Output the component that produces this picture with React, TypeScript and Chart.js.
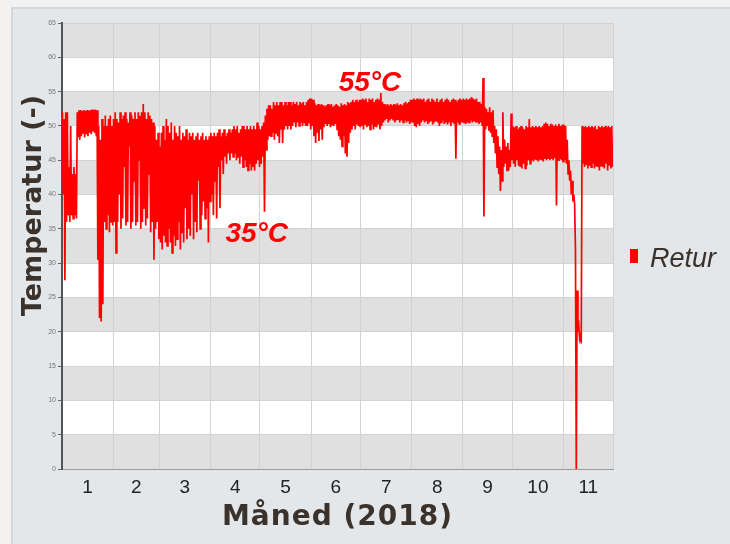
import React, { useEffect, useRef } from 'react';
import { Chart, registerables } from 'chart.js';

Chart.register(...registerables);

// ---- data ----
const SERIES_LABEL = 'Retur';
const MONTH_LABELS = ['1', '2', '3', '4', '5', '6', '7', '8', '9', '10', '11'];
const MONTH_DAYS = [31, 28, 31, 30, 31, 30, 31, 31, 30, 31, 30];
const Y_MIN = 0;
const Y_MAX = 65;
const Y_STEP = 5;

// daily upper value of the return temperature (°C), day 0 = 1 Jan 2018
const HIGH = [
  // Jan
  52, 51, 52, 52, 44, 50, 43, 44, 43, 52, 52.3, 52.3, 52.2, 52.3, 52.2, 52.3, 52.2, 52.3, 52.4, 52.3, 52.4, 52.3, 50, 48, 51, 50, 51.5, 50, 51, 51.5, 50,
  // Feb
  51, 52, 51, 50.5, 52, 51, 51.5, 52, 51, 50.5, 52, 51.5, 51, 52, 51, 52, 51.5, 52, 53.2, 52, 51, 52, 51.5, 51, 50.5, 50, 48, 49,
  // Mar
  47, 49, 50, 48, 51, 50, 49, 50.5, 48, 50, 49, 48.5, 50, 48, 49, 48.5, 49.5, 48, 49, 48.5, 49, 48, 48.5, 49, 48, 48.5, 49, 48, 48.5, 48, 48.5,
  // Apr
  49, 48.5, 49, 48.5, 49, 49.5, 48.5, 49, 49.5, 48.5, 49, 49.5, 49, 49.5, 50, 49.5, 50, 49, 49.5, 50, 50, 49.5, 50, 49.5, 50, 49.5, 50, 49.5, 50.5, 50,
  // May
  49.5, 50, 50.5, 51.5, 52.5, 53, 53, 52.5, 53.5, 53, 53.5, 53, 53.5, 53.5, 53, 53.5, 53, 53.5, 53.5, 53, 53.5, 53.2, 53.5, 53, 53.5, 53.3, 53.5, 53, 53.5, 53.8, 54,
  // Jun
  54, 53.8, 53.3, 53, 53.2, 53, 53.2, 53, 52.8, 53, 53.2, 53, 53.2, 52.8, 53, 53.2, 53, 52.8, 53.3, 53, 53.2, 53, 53.5, 53.3, 53.5, 53.8, 53.5, 53.8, 53.5, 53.8,
  // Jul
  53.8, 54, 53.8, 54, 53.5, 54, 53.8, 54, 53.5, 53.8, 54, 53.8, 54.8, 53.5, 53.2, 53, 53.2, 53, 53.2, 53, 53.2, 53, 53.3, 53, 53.2, 53, 53.3, 53.5, 53.3, 53.5, 53.8,
  // Aug
  53.8, 54, 53.8, 54, 53.8, 54, 53.8, 54, 53.5, 53.8, 54, 53.5, 54, 53.8, 53.5, 54, 53.5, 53.8, 54, 53.5, 53.8, 54, 53.8, 53.5, 53.8, 54, 53.8, 53.5, 53.8, 54, 53.8,
  // Sep
  54, 53.8, 54, 53.8, 54, 54.2, 54, 53.8, 54, 53.5, 53.5, 53.2, 57, 52.8, 52.5, 52, 52.7, 52, 52.3, 50, 49.5, 48.5, 47, 46.5, 52, 48, 47, 47.5, 46.5, 51.8,
  // Oct
  50, 49.8, 50, 49.5, 49.8, 50, 49.8, 49.5, 50, 49.8, 51, 49.8, 50, 49.8, 50, 49.8, 50, 49.8, 50, 50.3, 50.5, 50.3, 50, 50.3, 50.2, 50, 50.2, 50, 50.3, 50, 50.2,
  // Nov
  50.2, 50, 48, 45, 43.5, 42, 40, 32, 26, 21, 19.5, 50, 49.8, 50, 49.8, 50, 49.8, 50, 49.8, 50, 49.5, 50, 49.8, 50, 49.8, 50, 49.8, 50, 49.8, 50,
];

// daily lower value of the return temperature (°C)
const LOW = [
  // Jan
  40, 27.5, 36, 37, 36, 37, 36.5, 37, 36.5, 48.5, 48, 48.5, 49, 48.3, 48.8, 48.5, 49, 48.8, 49.2, 49, 48.5, 30.5, 22, 21.5, 24, 36, 35, 37, 34.5, 36, 35.5,
  // Feb
  36, 31.5, 36, 40, 35, 36.5, 44, 35.5, 36, 47, 35, 36, 42, 35.5, 36, 45, 35, 36, 38, 35.5, 36.5, 43, 34.5, 36, 30.5, 35, 36, 33.5,
  // Mar
  33, 32, 34, 33, 32.5, 35, 33, 31.5, 34, 32.5, 33.5, 36, 32, 34.5, 33, 38, 33.5, 35, 34, 40, 33.5, 36, 34.5, 42, 35, 37, 39, 36.5, 38, 33, 39,
  // Apr
  40, 37, 42, 36.5, 44, 38, 45, 43, 45.5, 44.5, 46, 45, 46, 45.5, 46, 45, 45.5, 44.5, 45.5, 44, 45, 44, 43.5, 44.5, 43.5, 44, 43.5, 44.5, 45, 44,
  // May
  44.5, 45.5, 37.5, 46.5, 48, 48.5, 48.5, 49, 48, 49, 48.5, 47.5, 49.5, 47.5, 49.5, 50, 49.5, 50, 49.5, 50, 50.5, 49.8, 50.5, 50, 50.5, 50, 50.5, 50, 50, 50.5, 49.5,
  // Jun
  50, 48.5, 47.5, 49, 47.8, 49.5, 48, 49.8, 50.3, 50, 50.3, 49.8, 50.2, 50, 50.3, 49.5, 48.5, 48, 47, 48.5, 46, 45.5, 47.5, 49, 49.5, 50, 49.5, 50.2, 50, 49.8,
  // Jul
  50, 49.5, 50.3, 49.8, 50, 49.5, 50.2, 49.5, 50, 49.8, 50.2, 49.5, 50, 50.5, 50.8, 51, 50.5, 50.8, 51, 50.8, 50.5, 50.8, 51, 50.5, 50.8, 50.5, 50.8, 50.5, 50.8, 50.3, 50.5,
  // Aug
  50.5, 50, 49.8, 50.3, 50, 50.5, 50.8, 50.5, 50.8, 50.3, 50.5, 50.8, 50.2, 50.5, 50.8, 50.5, 50, 50.5, 50.8, 50.3, 50.5, 50.2, 50.5, 50, 50.5, 50.3, 45.2, 50.5, 50.3, 50.5, 50.5,
  // Sep
  50.5, 50.3, 50.5, 50.5, 50.8, 50.5, 50.8, 50.5, 50.5, 50.3, 50.5, 50, 36.8, 49.5, 50, 49.3, 49, 48.5, 47.5, 46, 44, 43, 40.5, 42, 44, 44.5, 43.5, 43.5, 44, 45,
  // Oct
  44.5, 44, 45, 44.2, 44, 43.8, 44.5, 43.8, 44.2, 45, 44.5, 45, 44.8, 45.2, 45, 44.8, 45.2, 45, 44.8, 45.2, 45, 45.2, 45, 45.2, 45, 45.3, 38.4, 45, 45.2, 45, 44.8,
  // Nov
  45, 44.5, 43, 42, 40, 39, 38.5, 0, 20.5, 19, 18.3, 44.5, 44, 44.3, 43.8, 44.2, 44, 44.5, 43.8, 44.2, 44, 43.5, 44.2, 44, 43.8, 44.5, 43.5, 44.2, 43.8, 44,
];

// in-plot annotations (day of year, temperature)
const ANNOT_TEXT = ['55°C', '35°C'];
const ANNOT_DAY = [186.7, 118];
const ANNOT_TEMP = [55.1, 33.1];

const X_TITLE = 'Måned (2018)';
const Y_TITLE = 'Temperatur (-)';

// ---- derived helpers ----
const BOUNDS: number[] = MONTH_DAYS.reduce((acc, d) => { acc.push(acc[acc.length - 1] + d); return acc; }, [0] as number[]);
const CENTERS = MONTH_DAYS.map((d, i) => BOUNDS[i] + d / 2);
const X_MAX = BOUNDS[BOUNDS.length - 1];
const TICK_VALUES = [...BOUNDS, ...CENTERS].sort((a, b) => a - b);
const isCenter = (v: number) => CENTERS.some((c) => Math.abs(c - v) < 1e-6);

const RED = '#ff0000';
const TEXT_DARK = '#3b322b';

export default function App() {
  const ref = useRef<HTMLCanvasElement | null>(null);

  useEffect(() => {
    if (!ref.current) return;
    const points = HIGH.flatMap((h, d) => [
      { x: d + 0.25, y: h },
      { x: d + 0.75, y: LOW[d] },
    ]);

    const decor = {
      id: 'decor',
      beforeDraw(chart: any) {
        const { ctx, chartArea: a, scales } = chart;
        const y = scales.y;
        ctx.save();
        for (let v = Y_MIN, k = 0; v < Y_MAX; v += Y_STEP, k++) {
          const top = y.getPixelForValue(v + Y_STEP);
          const bot = y.getPixelForValue(v);
          ctx.fillStyle = k % 2 === 0 ? '#e0e0e0' : '#ffffff';
          ctx.fillRect(a.left, top, a.right - a.left, bot - top);
        }
        ctx.restore();
      },
      afterDatasetsDraw(chart: any) {
        const { ctx, scales } = chart;
        ctx.save();
        ctx.fillStyle = RED;
        ctx.font = 'italic bold 28px "Liberation Sans", Arial, sans-serif';
        ctx.textAlign = 'center';
        ctx.textBaseline = 'alphabetic';
        ANNOT_TEXT.forEach((t, i) => {
          ctx.fillText(t, scales.x.getPixelForValue(ANNOT_DAY[i]), scales.y.getPixelForValue(ANNOT_TEMP[i]));
        });
        ctx.restore();
      },
      afterDraw(chart: any) {
        const { ctx, chartArea: a } = chart;
        ctx.save();
        ctx.fillStyle = TEXT_DARK;
        // y title
        ctx.font = 'bold 27px "DejaVu Sans", Verdana, sans-serif';
        ctx.textAlign = 'center';
        ctx.textBaseline = 'alphabetic';
        ctx.save();
        ctx.translate(41, 205.5);
        ctx.rotate(-Math.PI / 2);
        ctx.fillText(Y_TITLE, 0, 0);
        ctx.restore();
        // x title
        ctx.font = 'bold 28px "DejaVu Sans", Verdana, sans-serif';
        try { (ctx as any).letterSpacing = '1px'; } catch (e) {}
        ctx.fillText(X_TITLE, (a.left + a.right) / 2, 525);
        try { (ctx as any).letterSpacing = '0px'; } catch (e) {}
        // legend
        const ds = chart.data.datasets[0];
        ctx.fillStyle = ds.borderColor;
        ctx.fillRect(630, 249, 8, 14);
        ctx.fillStyle = TEXT_DARK;
        ctx.font = 'italic 27px "Liberation Sans", Arial, sans-serif';
        ctx.textAlign = 'left';
        ctx.fillText(ds.label, 650, 266.5);
        ctx.restore();
      },
    };

    const chart = new Chart(ref.current, {
      type: 'line',
      data: {
        datasets: [
          {
            label: SERIES_LABEL,
            data: points,
            borderColor: RED,
            backgroundColor: RED,
            borderWidth: 1.7,
            pointRadius: 0,
            pointHoverRadius: 0,
            fill: false,
            tension: 0,
          },
        ],
      },
      options: {
        responsive: false,
        animation: false,
        events: [],
        layout: { padding: { left: 0, top: 23, right: 117, bottom: 0 } },
        plugins: { legend: { display: false }, tooltip: { enabled: false } },
        scales: {
          x: {
            type: 'linear',
            min: 0,
            max: X_MAX,
            afterBuildTicks: (s: any) => {
              s.ticks = TICK_VALUES.map((v) => ({ value: v }));
            },
            afterFit: (s: any) => {
              s.height = 75;
            },
            ticks: {
              autoSkip: false,
              maxRotation: 0,
              minRotation: 0,
              padding: 7,
              color: '#222',
              font: { family: '"Liberation Sans", Arial, sans-serif', size: 19 },
              callback: (v: any) => {
                const i = CENTERS.findIndex((c) => Math.abs(c - Number(v)) < 1e-6);
                return i >= 0 ? MONTH_LABELS[i] : '';
              },
            },
            grid: {
              drawTicks: false,
              color: (ctx: any) => (ctx.tick && isCenter(ctx.tick.value) ? 'rgba(0,0,0,0)' : '#d2d2d2'),
              lineWidth: 1,
            },
            border: { display: true, color: '#9a9a9a', width: 1 },
          },
          y: {
            type: 'linear',
            min: Y_MIN,
            max: Y_MAX,
            afterFit: (s: any) => {
              s.width = 62;
            },
            ticks: {
              stepSize: Y_STEP,
              padding: 2,
              color: '#777',
              font: { family: '"Liberation Sans", Arial, sans-serif', size: 7 },
            },
            grid: {
              color: '#d3d3d3',
              tickLength: 4,
              tickColor: '#666',
              drawTicks: true,
            },
            border: { display: true, color: '#555', width: 2 },
          },
        },
      },
      plugins: [decor],
    });
    return () => chart.destroy();
  }, []);

  return (
    <div style={{ position: 'absolute', left: 0, top: 0, width: 730, height: 544, background: '#f3f2f0', overflow: 'hidden' }}>
      <div
        style={{
          position: 'absolute',
          left: 11,
          top: 7,
          width: 719,
          height: 537,
          background: '#e3e7ea',
          borderLeft: '2px solid #d4d7da',
          borderTop: '2px solid #d4d7da',
          boxSizing: 'border-box',
        }}
      />
      <canvas ref={ref} width={730} height={544} style={{ position: 'absolute', left: 0, top: 0, width: 730, height: 544 }} />
    </div>
  );
}
